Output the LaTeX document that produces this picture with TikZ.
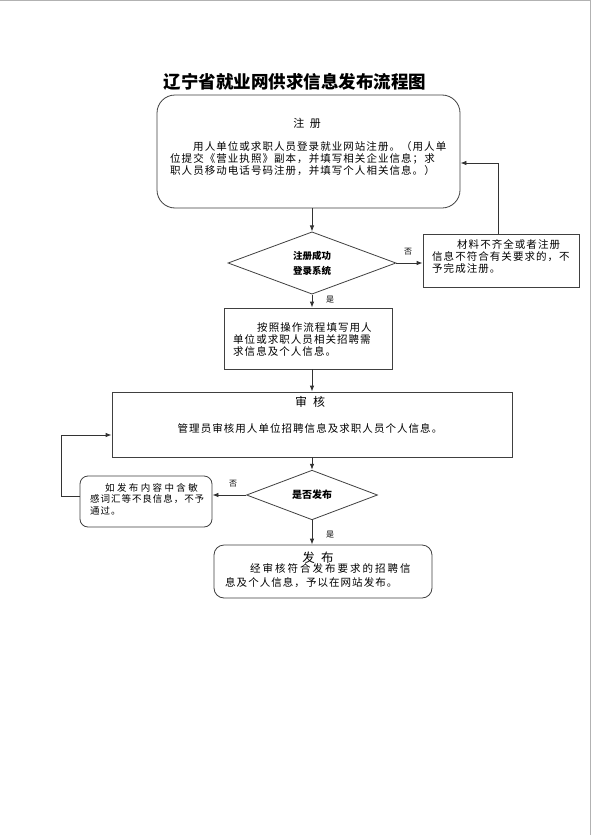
\documentclass[tikz,border=0pt]{standalone}
\usepackage{fontspec}
\newfontfamily\cjk{Noto Sans CJK SC}
\newfontfamily\cjkbody{Noto Sans CJK SC}[LetterSpace=10]
\usetikzlibrary{shapes.geometric,arrows.meta}

\begin{document}
\begin{tikzpicture}[
  x=1pt,y=-1pt,
  box/.style={rectangle,draw=black!75,line width=0.8pt,inner sep=0pt},
  rbox/.style={box,rounded corners=#1},
  decide/.style={diamond,draw=black!75,line width=0.8pt,inner sep=0pt,
                 align=center,font=\cjk\bfseries\fontsize{9.5}{15}\selectfont},
  body/.style={inner sep=0pt,align=left,anchor=west,
               font=\cjkbody\fontsize{10.5}{12}\selectfont},
  head/.style={inner sep=0pt,font=\cjk\fontsize{11}{13}\selectfont},
  tag/.style={inner sep=0pt,font=\cjk\fontsize{8}{9}\selectfont},
  arr/.style={-{Latex[length=6pt,width=4.5pt]},line width=0.8pt,black!80}
]
  \fill[white] (0,0) rectangle (591,835);
  \useasboundingbox (0,0) rectangle (591,835);
  \draw[gray!60,line width=1pt] (0,0.5) -- (591,0.5);
  \draw[gray!60,line width=1pt] (590,0) -- (590,835);

  \node[font=\cjk\bfseries\fontsize{17.5}{20}\selectfont] (title) at (295,82)
    {辽宁省就业网供求信息发布流程图};

  % registration
  \node[rbox=18pt,minimum width=303pt,minimum height=113pt] (reg) at (308.5,151.5) {};
  \node[head] (regtit) at (307,123) {注\hspace{0.5em}册};
  \node[body] (regtxt) at (170,159)
    {\hspace*{23pt}用人单位或求职人员登录就业网站注册。（用人单\\
     位提交《营业执照》副本，并填写相关企业信息；求\\
     职人员移动电话号码注册，并填写个人相关信息。）};

  \node[decide,minimum width=168pt,minimum height=61pt] (chk1) at (312,263)
    {注册成功\\登录系统};

  \node[box,minimum width=156pt,minimum height=53pt] (fail) at (501,260.5) {};
  \node[body] (failtxt) at (432,256)
    {\hspace*{25pt}材料不齐全或者注册\\信息不符合有关要求的，不\\予完成注册。};

  \node[box,minimum width=168pt,minimum height=61pt] (fill) at (308,338.5) {};
  \node[body] (filltxt) at (233,339)
    {\hspace*{24pt}按照操作流程填写用人\\单位或求职人员相关招聘需\\求信息及个人信息。};

  % review
  \node[box,minimum width=400pt,minimum height=65pt] (audit) at (312,424.5) {};
  \node[head,font=\cjk\fontsize{12}{14}\selectfont] (audtit) at (310,402) {审\hspace{0.5em}核};
  \node[body,anchor=center] (audtxt) at (310,428)
    {管理员审核用人单位招聘信息及求职人员个人信息。};

  \node[decide,font=\cjk\bfseries\fontsize{10}{12}\selectfont,
        minimum width=131pt,minimum height=41pt] (chk2) at (312,495) {是否发布};

  \node[rbox=8pt,minimum width=132pt,minimum height=51pt] (reject) at (146,501.5) {};
  \node[body,font=\cjkbody\fontsize{9.5}{11.5}\selectfont] (rejtxt) at (90,499)
    {\hspace*{15pt}{\addfontfeature{LetterSpace=25}如发布内容中含敏}\\感词汇等不良信息，不予\\通过。};

  % publish
  \node[rbox=10pt,minimum width=218pt,minimum height=53pt] (pub) at (323,571.5) {};
  \node[head,font=\cjk\fontsize{12.5}{14}\selectfont] (pubtit) at (318,558) {发\hspace{0.5em}布};
  \node[body,font=\cjkbody\fontsize{10.5}{14}\selectfont] (pubtxt) at (225,576)
    {\hspace*{25pt}{\addfontfeature{LetterSpace=19}经审核符合发布要求的招聘信}\\息及个人信息，予以在网站发布。};

  \draw[arr] (chk1.north |- reg.south) -- (chk1.north);
  \draw[arr] (chk1.east) -- (chk1.east -| fail.west);
  \node[tag] (no1) at (408,252) {否};
  \draw[arr] ([xshift=-3pt]fail.north) |- ([yshift=-11.5pt]reg.east);
  \draw[arr] (chk1.south) -- (chk1.south |- fill.north);
  \node[tag] (yes1) at (330,300) {是};
  \draw[arr] (audit.north |- fill.south) -- (audit.north);
  \draw[arr] (audit.south) -- (chk2.north);
  \draw[arr] (chk2.west) -- (chk2.west -| reject.east);
  \node[tag] (no2) at (233,484) {否};
  \draw[arr] ([yshift=5.5pt]reject.west) -- ++(-18,0) |- ([yshift=-10.5pt]audit.west);
  \draw[arr] (chk2.south) -- (chk2.south |- pub.north);
  \node[tag] (yes2) at (330,535) {是};
\end{tikzpicture}
\end{document}
